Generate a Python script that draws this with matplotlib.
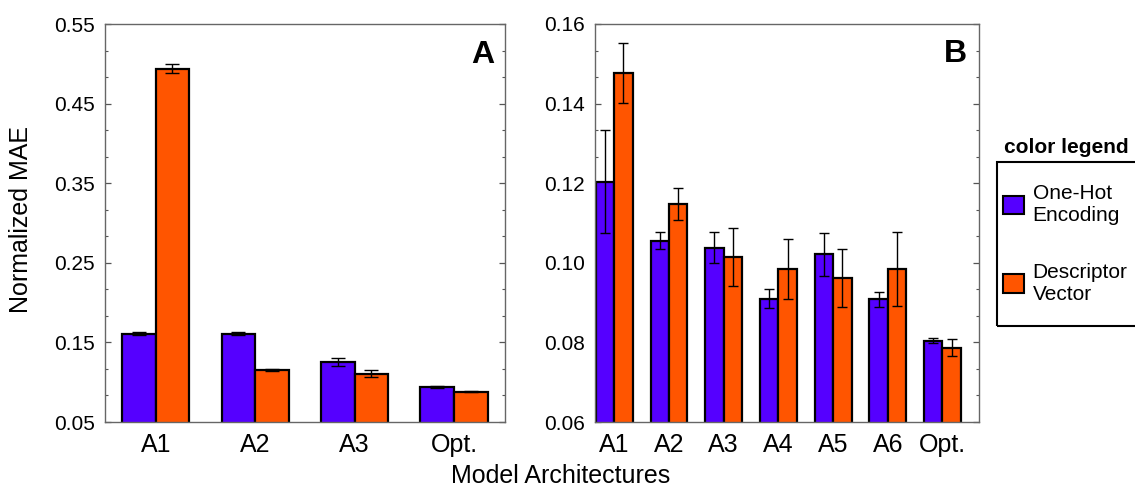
import numpy as np
import matplotlib
matplotlib.use("Agg")
import matplotlib.pyplot as plt
from matplotlib.patches import Patch, Rectangle
from matplotlib.ticker import AutoMinorLocator, FormatStrFormatter

plt.rcParams['font.family'] = ['Liberation Sans', 'DejaVu Sans']

# ---------------- data ----------------
cats_a = ["A1", "A2", "A3", "Opt."]
onehot_a = [0.161, 0.161, 0.1254, 0.094]
onehot_a_err = [0.0022, 0.0015, 0.0045, 0.0010]
desc_a = [0.494, 0.1153, 0.1107, 0.088]
desc_a_err = [0.0055, 0.0010, 0.0040, 0.0008]
yticks_a = [0.05, 0.15, 0.25, 0.35, 0.45, 0.55]

cats_b = ["A1", "A2", "A3", "A4", "A5", "A6", "Opt."]
onehot_b = [0.1204, 0.1056, 0.1038, 0.0910, 0.1021, 0.0908, 0.0804]
onehot_b_err = [0.0130, 0.0022, 0.0039, 0.0023, 0.0055, 0.0018, 0.0006]
desc_b = [0.1477, 0.1148, 0.1014, 0.0984, 0.0962, 0.0985, 0.0787]
desc_b_err = [0.0075, 0.0040, 0.0073, 0.0075, 0.0072, 0.0093, 0.0022]
yticks_b = [0.06, 0.08, 0.10, 0.12, 0.14, 0.16]

series_labels = ["One-Hot\nEncoding", "Descriptor\nVector"]
BLUE = "#5500FF"
ORANGE = "#FF5500"

W, H = 1135, 497
fig = plt.figure(figsize=(W / 100, H / 100), dpi=100)

def px_axes(l, t, r, b):
    return fig.add_axes([l / W, 1 - b / H, (r - l) / W, (b - t) / H])

axA = px_axes(104.7, 24, 505, 422)
axB = px_axes(594.7, 24, 979.3, 422)

bw = 0.337

def draw(ax, cats, v1, e1, v2, e2, capsize, yticks):
    x = np.arange(1, len(cats) + 1)
    ax.bar(x - bw / 2, v1, bw, color=BLUE, edgecolor="black", linewidth=1.6, zorder=2)
    ax.bar(x + bw / 2, v2, bw, color=ORANGE, edgecolor="black", linewidth=1.6, zorder=2)
    ax.errorbar(x - bw / 2, v1, yerr=e1, fmt="none", ecolor="black", elinewidth=1.0,
                capsize=capsize, capthick=1.0, zorder=3)
    ax.errorbar(x + bw / 2, v2, yerr=e2, fmt="none", ecolor="black", elinewidth=1.0,
                capsize=capsize, capthick=1.0, zorder=3)
    ax.set_xticks(x)
    ax.set_xticklabels(cats, fontsize=18)
    ax.set_yticks(yticks)
    ax.set_ylim(yticks[0], yticks[-1])
    ax.yaxis.set_major_formatter(FormatStrFormatter("%.2f"))
    ax.yaxis.set_minor_locator(AutoMinorLocator(3))
    ax.tick_params(axis="x", length=0, pad=8)
    ax.tick_params(axis="y", which="both", direction="in", left=True, right=True,
                   labelsize=15, pad=7, color="#555555")
    ax.tick_params(axis="y", which="major", length=4.5, width=0.9)
    ax.tick_params(axis="y", which="minor", length=2.5, width=0.8)
    for s in ax.spines.values():
        s.set_color("#666666")
        s.set_linewidth(1.0)

draw(axA, cats_a, onehot_a, onehot_a_err, desc_a, desc_a_err, 5, yticks_a)
axA.set_xlim(0.487, 4.513)

draw(axB, cats_b, onehot_b, onehot_b_err, desc_b, desc_b_err, 3.5, yticks_b)
axB.set_xlim(0.642, 7.673)

axA.text(0.9725, 0.902, "A", transform=axA.transAxes, ha="right", va="baseline",
         fontsize=23, fontweight="bold")
axB.text(0.967, 0.905, "B", transform=axB.transAxes, ha="right", va="baseline",
         fontsize=23, fontweight="bold")

axA.set_ylabel("Normalized MAE", fontsize=18)
axA.yaxis.set_label_coords(-0.179, 0.51)
fig.text(561 / W, 1 - 483 / H, "Model Architectures", fontsize=18,
         ha="center", va="baseline")

# legend
handles = [Patch(facecolor=BLUE, edgecolor="black", linewidth=1.5),
           Patch(facecolor=ORANGE, edgecolor="black", linewidth=1.5)]
leg = fig.legend(handles, series_labels, loc="upper left",
                 bbox_to_anchor=(1003 / W, 1 - 184 / H), frameon=False,
                 fontsize=15, handlelength=1.0, handleheight=1.0,
                 handletextpad=0.42, labelspacing=1.8, borderpad=0,
                 borderaxespad=0)
fig.add_artist(Rectangle((997 / W, 1 - 326 / H), 150 / W, 164 / H,
                         transform=fig.transFigure, fill=False,
                         edgecolor="black", linewidth=1.5))
fig.text(1004 / W, 1 - 153 / H, "color legend", fontsize=15, fontweight="bold",
         ha="left", va="baseline")

fig.savefig("out.png", dpi=100)
